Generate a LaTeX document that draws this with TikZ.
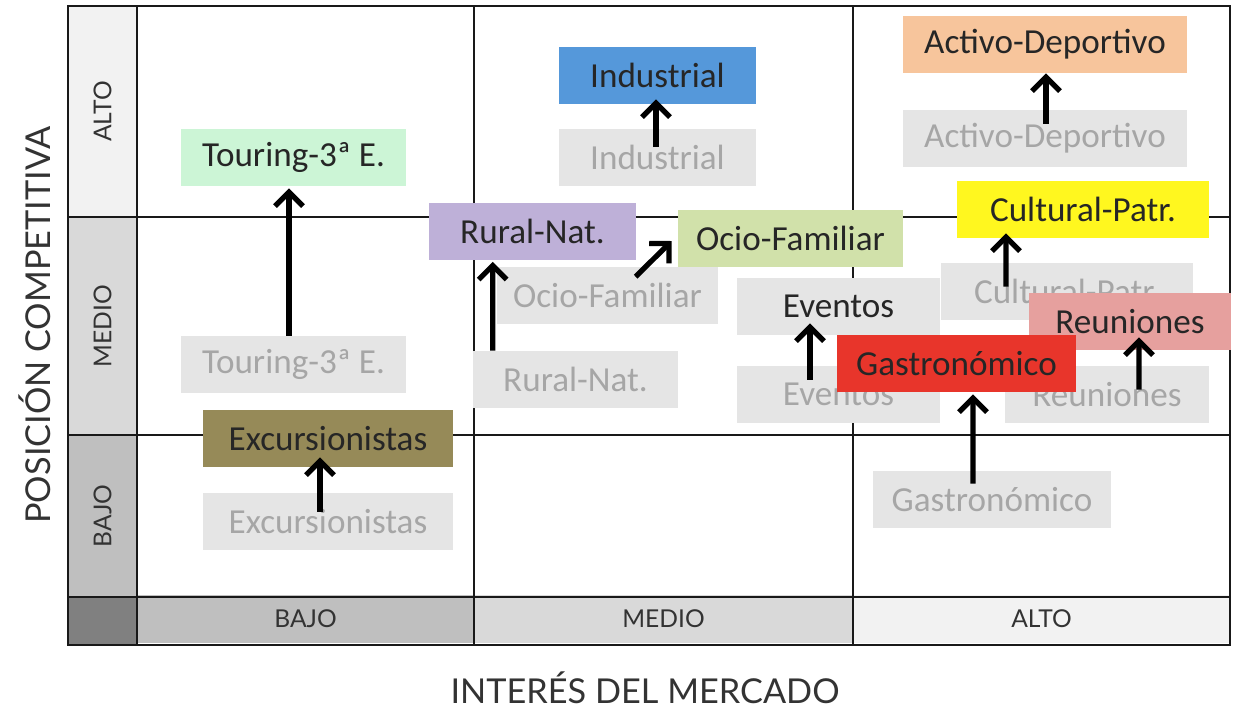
\documentclass[tikz,border=0pt]{standalone}
\usepackage{fontspec}
\setmainfont{Carlito}
\newfontfamily\axisfont{Lato}
\usetikzlibrary{arrows.meta}
\definecolor{mygray}{RGB}{229,229,229}
\definecolor{mytext}{RGB}{166,166,166}
\definecolor{mygreen}{RGB}{204,245,214}
\definecolor{myolive}{RGB}{150,138,88}
\definecolor{myblue}{RGB}{85,152,218}
\definecolor{mypurple}{RGB}{190,176,216}
\definecolor{mylime}{RGB}{209,225,170}
\definecolor{myorange}{RGB}{247,197,156}
\definecolor{myyellow}{RGB}{255,247,31}
\definecolor{mypink}{RGB}{230,160,158}
\definecolor{myred}{RGB}{232,53,43}

\begin{document}
\begin{tikzpicture}[x=0.02cm,y=-0.02cm,inner sep=0pt]
\tikzstyle{box}=[rectangle, minimum height=1.14cm, font=\fontsize{20}{24}\selectfont, text=black!85]
\tikzstyle{old}=[box, fill=mygray, text=mytext]
\tikzstyle{cell}=[rectangle, font=\axisfont\fontsize{14}{17}\selectfont, text=black!80]
\tikzstyle{title}=[font=\axisfont\fontsize{19.5}{23}\selectfont, text=black!80]
\tikzstyle{rise}=[-{Straight Barb[length=2.8mm,width=5.6mm]}, line width=3pt]
\tikzstyle{grid}=[line width=1.4pt, black!90]
\useasboundingbox (0,0) rectangle (1233,711);
% headers
\node[cell,fill=black!5,rotate=90,minimum width=4.22cm,minimum height=1.38cm] (rAlto) at (102.5,111.5) {ALTO};
\node[cell,fill=black!15,rotate=90,minimum width=4.36cm,minimum height=1.38cm] (rMedio) at (102.5,326) {MEDIO};
\node[cell,fill=black!25,rotate=90,minimum width=3.24cm,minimum height=1.38cm] (rBajo) at (102.5,516) {BAJO};
\node[cell,fill=black!50,minimum width=1.38cm,minimum height=0.96cm] (corner) at (102.5,621) {};
\node[cell,fill=black!25,minimum width=6.74cm,minimum height=0.96cm] (cBajo) at (305.5,619) {BAJO};
\node[cell,fill=black!15,minimum width=7.58cm,minimum height=0.96cm] (cMedio) at (663.5,619) {MEDIO};
\node[cell,fill=black!5,minimum width=7.54cm,minimum height=0.96cm] (cAlto) at (1041.5,619) {ALTO};
% grid
\draw[grid] (68,6) rectangle (1230,645);
\draw[grid] (137,6) -- (137,645) (474,6) -- (474,645) (853,6) -- (853,645);
\draw[grid] (68,217) -- (1230,217) (68,435) -- (1230,435) (68,597) -- (1230,597);
% axis titles
\node[title,rotate=90] (ylab) at (35,325) {POSICIÓN COMPETITIVA};
\node[title] (xlab) at (645,688) {INTERÉS DEL MERCADO};
% current position
\node[old,minimum width=4.5cm] (tourG) at (293.5,364.5) {Touring-3ª E.};
\node[old,minimum width=5cm] (excG) at (328,521.5) {Excursionistas};
\node[old,minimum width=3.94cm] (indG) at (657.5,157) {Industrial};
\node[old,minimum width=4.1cm] (rurG) at (575.5,379.5) {Rural-Nat.};
\node[old,minimum width=4.42cm] (ocioG) at (607.5,295.5) {Ocio-Familiar};
\node[old,minimum width=4.06cm] (evG) at (838.5,394.5) {Eventos};
\node[old,minimum width=5.68cm] (actG) at (1045,138.5) {Activo-Deportivo};
\node[old,minimum width=5.04cm] (culG) at (1067,291.5) {Cultural-Patr.};
\node[old,minimum width=4.08cm] (reuG) at (1107,394.5) {Reuniones};
\node[old,minimum width=4.76cm] (gasG) at (992,499.5) {Gastronómico};
% target position
\node[box,fill=mygreen,minimum width=4.5cm] (tourC) at (293.5,157.5) {Touring-3ª E.};
\node[box,fill=myolive,minimum width=5cm] (excC) at (328,438.5) {Excursionistas};
\node[box,fill=myblue,minimum width=3.94cm] (indC) at (657.5,75.5) {Industrial};
\node[box,fill=mypurple,minimum width=4.14cm] (rurC) at (532.5,231) {Rural-Nat.};
\node[box,fill=mylime,minimum width=4.5cm] (ocioC) at (790.5,238.5) {Ocio-Familiar};
\node[box,fill=mygray,minimum width=4.06cm] (evC) at (838.5,306.5) {Eventos};
\node[box,fill=myorange,minimum width=5.68cm] (actC) at (1045,44.5) {Activo-Deportivo};
\node[box,fill=myyellow,minimum width=5.04cm] (culC) at (1083,209.5) {Cultural-Patr.};
\node[box,fill=mypink,minimum width=4.04cm] (reuC) at (1130,321.5) {Reuniones};
\node[box,fill=myred,minimum width=4.78cm] (gasC) at (956.5,363.5) {Gastronómico};
% moves
\path ([xshift=-0.09cm]tourG.north) edge[rise] ([xshift=-0.09cm,yshift=-0.04cm]tourC.south);
\path ([xshift=-0.16cm,yshift=-0.38cm]excG.north) edge[rise] ([xshift=-0.16cm,yshift=0.2cm]excC.south);
\path ([xshift=-0.03cm,yshift=-0.38cm]indG.north) edge[rise] ([xshift=-0.03cm,yshift=0.1cm]indC.south);
\path ([xshift=0.4cm]rurG.north west) edge[rise] ([xshift=1.28cm,yshift=-0.04cm]rurC.south west);
\path ([xshift=2.78cm,yshift=-0.2cm]ocioG.north west) edge[rise] ([xshift=-0.12cm,yshift=-0.05cm]ocioC.west);
\path ([xshift=-0.57cm,yshift=-0.28cm]evG.north) edge[rise] ([xshift=-0.57cm,yshift=0.24cm]evC.south);
\path ([xshift=0.02cm,yshift=-0.28cm]actG.north) edge[rise] ([xshift=0.02cm]actC.south);
\path ([xshift=-1.22cm,yshift=-0.48cm]culG.north) edge[rise] ([xshift=-1.54cm,yshift=0.1cm]culC.south);
\path ([xshift=0.64cm,yshift=-0.48cm]reuG.north) edge[rise] ([xshift=0.18cm,yshift=0.26cm]reuC.south);
\path ([xshift=-0.38cm,yshift=-0.26cm]gasG.north) edge[rise] ([xshift=0.33cm,yshift=-0.04cm]gasC.south);
\end{tikzpicture}
\end{document}
